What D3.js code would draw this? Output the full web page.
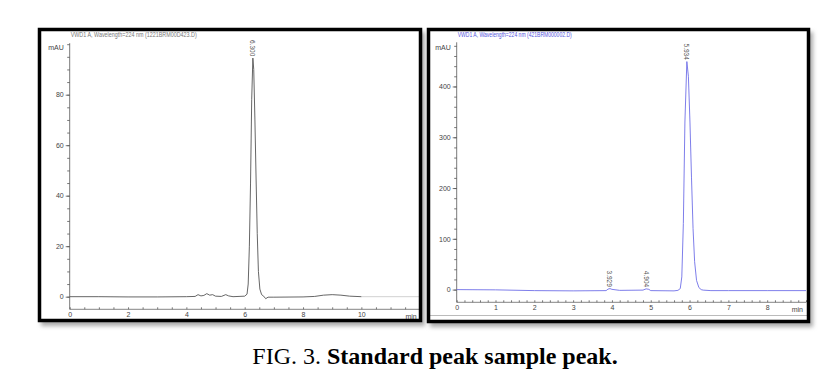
<!DOCTYPE html>
<html>
<head>
<meta charset="utf-8">
<script src="https://cdn.jsdelivr.net/npm/d3@7"></script>
<style>
  body { margin: 0; background: #fff; }
  svg { display: block; }
</style>
</head>
<body>
<div id="chart"></div>
<script>
// Chromatogram data: [time (min), signal (mAU)]
const standardTrace = [
  [0, 0], [1, 0], [2, -0.1], [3, -0.1], [4, 0], [4.3, 0.1], [4.4, 0.8], [4.5, 0.3],
  [4.6, 0.5], [4.7, 1.2], [4.8, 0.6], [4.9, 0.8], [5.0, 0.2], [5.2, 0.1], [5.35, 0.8],
  [5.45, 0.3], [5.6, 0], [6.0, 0.2], [6.08, 1], [6.12, 5], [6.16, 20], [6.2, 45],
  [6.24, 78], [6.28, 94.5], [6.31, 90], [6.35, 70], [6.39, 47], [6.43, 25], [6.47, 10],
  [6.52, 3], [6.58, 0.8], [6.65, 0.2], [6.72, -0.8], [6.8, -0.2], [7, -0.2], [8, -0.1],
  [8.4, 0.1], [8.7, 0.6], [9, 0.8], [9.3, 0.6], [9.6, 0.2], [10, 0]
];
const standardTail = [[10, 0], [12, 0]];
const sampleTrace = [
  [0, 0], [1, -0.5], [2, -2], [3, -2.5], [3.85, -2], [3.9, 1], [3.95, 2], [4.0, 0.5],
  [4.2, -1.5], [4.8, -1], [4.88, 1.5], [4.95, 0.5], [5.0, -2], [5.6, -2.5], [5.7, -1.5],
  [5.76, 2], [5.8, 25], [5.84, 130], [5.88, 330], [5.93, 449], [5.97, 420], [6.01, 330],
  [6.05, 220], [6.09, 120], [6.13, 55], [6.18, 18], [6.24, 4], [6.3, 0], [6.35, -1],
  [6.55, -2], [7, -2], [8, -2], [9, -2]
];

// Peak annotations: [time, height, label]
const standardPeaks = [[6.28, 94.5, '6.300']];
const samplePeaks = [[3.93, 2, '3.929'], [4.88, 1.5, '4.904'], [5.93, 449, '5.934']];

// Tick values
const standardXTicks = [0, 2, 4, 6, 8, 10];
const standardYTicks = [0, 20, 40, 60, 80];
const sampleXTicks = [0, 1, 2, 3, 4, 5, 6, 7, 8];
const sampleYTicks = [0, 100, 200, 300, 400];

const titles = [
  'VWD1 A, Wavelength=224 nm (1221BRM00D423.D)',
  'VWD1 A, Wavelength=224 nm (421BRM000002.D)'
];

const W = 821, H = 380;
const svg = d3.select('#chart').append('svg').attr('width', W).attr('height', H);

const defs = svg.append('defs');
defs.append('filter').attr('id', 'shadow')
  .append('feGaussianBlur').attr('stdDeviation', 2);

function drawPanel(cfg) {
  const g = svg.append('g');

  // drop shadow
  g.append('rect')
    .attr('x', cfg.box[0] + 3).attr('y', cfg.box[1] + 4)
    .attr('width', cfg.box[2]).attr('height', cfg.box[3])
    .attr('fill', '#aaa').attr('filter', 'url(#shadow)');
  g.append('rect')
    .attr('x', cfg.box[0]).attr('y', cfg.box[1])
    .attr('width', cfg.box[2]).attr('height', cfg.box[3])
    .attr('fill', '#fff');

  const x = d3.scaleLinear().domain(cfg.xDomain).range(cfg.xRange);
  const y = d3.scaleLinear().domain(cfg.yDomain).range(cfg.yRange);

  // title
  g.append('text')
    .attr('x', cfg.xRange[0] + 1).attr('y', cfg.box[1] + 9)
    .attr('font-family', 'Liberation Sans, Arial, sans-serif')
    .attr('font-size', 8)
    .attr('fill', cfg.titleColor)
    .attr('textLength', cfg.titleWidth)
    .attr('lengthAdjust', 'spacingAndGlyphs')
    .text(cfg.title);

  // mAU label
  g.append('text')
    .attr('x', cfg.xRange[0] - 6).attr('y', 50)
    .attr('text-anchor', 'end')
    .attr('font-family', 'Liberation Sans, Arial, sans-serif')
    .attr('font-size', 7).attr('fill', '#444')
    .text('mAU');

  // y axis: minor and major ticks
  const yMinor = g.append('g').attr('transform', `translate(${cfg.xRange[0]},0)`)
    .call(d3.axisLeft(y).tickValues(d3.range(0, cfg.yTop + 0.001, cfg.yMinor)).tickSize(2.5).tickFormat(''));
  yMinor.select('.domain').remove();
  const yMajor = g.append('g').attr('transform', `translate(${cfg.xRange[0]},0)`)
    .call(d3.axisLeft(y).tickValues(cfg.yTicks).tickSize(4).tickPadding(2));
  yMajor.select('.domain').remove();
  g.append('line')
    .attr('x1', cfg.xRange[0]).attr('x2', cfg.xRange[0])
    .attr('y1', cfg.yRange[1] - 1).attr('y2', cfg.yRange[0])
    .attr('stroke', '#555').attr('stroke-width', 0.8);

  // x axis (ticks point up)
  const xMinor = g.append('g').attr('transform', `translate(0,${cfg.yRange[0]})`)
    .call(d3.axisTop(x).tickValues(d3.range(0, cfg.xDomain[1] + 0.001, cfg.xMinor)).tickSize(2).tickFormat(''));
  xMinor.select('.domain').remove();
  const xMajor = g.append('g').attr('transform', `translate(0,${cfg.yRange[0]})`)
    .call(d3.axisBottom(x).tickValues(cfg.xTicks).tickSize(0).tickPadding(3));
  xMajor.select('.domain').remove();
  g.append('line')
    .attr('x1', cfg.xRange[0]).attr('x2', cfg.xRange[1])
    .attr('y1', cfg.yRange[0]).attr('y2', cfg.yRange[0])
    .attr('stroke', '#666').attr('stroke-width', 0.8);

  g.append('text')
    .attr('x', cfg.xRange[1] - 3).attr('y', cfg.yRange[0] + 10)
    .attr('text-anchor', 'end')
    .attr('font-family', 'Liberation Sans, Arial, sans-serif')
    .attr('font-size', 7).attr('fill', '#444')
    .text('min');

  g.selectAll('.tick line').attr('stroke', '#555').attr('stroke-width', 0.8);
  g.selectAll('.tick text')
    .attr('font-family', 'Liberation Sans, Arial, sans-serif')
    .attr('font-size', 7).attr('fill', '#444');

  const line = d3.line().x(d => x(d[0])).y(d => y(d[1]));

  if (cfg.tail) {
    g.append('path').datum(cfg.tail).attr('d', line)
      .attr('fill', 'none').attr('stroke', '#ccc').attr('stroke-width', 0.9);
  }
  g.append('path').datum(cfg.data).attr('d', line)
    .attr('fill', 'none').attr('stroke', cfg.lineColor).attr('stroke-width', 0.9);

  // peak labels, rotated
  g.selectAll('.peak').data(cfg.peaks).join('text')
    .attr('transform', d => `translate(${x(d[0]) - 2.5},${y(d[1]) - 18}) rotate(90)`)
    .attr('font-family', 'Liberation Sans, Arial, sans-serif')
    .attr('font-size', 6.5).attr('fill', '#555')
    .text(d => d[2]);

  if (cfg.extraLine) {
    g.append('line')
      .attr('x1', cfg.box[0]).attr('x2', cfg.box[0] + cfg.box[2])
      .attr('y1', cfg.extraLine).attr('y2', cfg.extraLine)
      .attr('stroke', '#aaa').attr('stroke-width', 0.8);
  }

  // frame
  g.append('rect')
    .attr('x', cfg.box[0] + 1.5).attr('y', cfg.box[1] + 1.5)
    .attr('width', cfg.box[2] - 3).attr('height', cfg.box[3] - 3)
    .attr('fill', 'none').attr('stroke', '#000').attr('stroke-width', 3.5);
}

drawPanel({
  box: [38, 28, 384, 294],
  xDomain: [0, 12], xRange: [69.7, 419.7],
  yDomain: [-5, 100], yRange: [309.3, 44.2], yTop: 100,
  xTicks: standardXTicks, yTicks: standardYTicks,
  xMinor: 0.5, yMinor: 5,
  data: standardTrace, tail: standardTail, peaks: standardPeaks,
  lineColor: '#555', title: titles[0], titleColor: '#777', titleWidth: 126
});

drawPanel({
  box: [427, 28, 383, 295],
  xDomain: [0, 9], xRange: [456.7, 806],
  yDomain: [-25, 485], yRange: [302.3, 43.3], yTop: 480,
  xTicks: sampleXTicks, yTicks: sampleYTicks,
  xMinor: 0.2, yMinor: 20,
  data: sampleTrace, tail: null, peaks: samplePeaks,
  lineColor: '#6f6fe8', title: titles[1], titleColor: '#5555dd', titleWidth: 114,
  extraLine: 315.5
});

// caption
const cap = svg.append('text')
  .attr('x', 435).attr('y', 364)
  .attr('text-anchor', 'middle')
  .attr('font-family', 'Liberation Serif, Times New Roman, serif')
  .attr('font-size', 24).attr('fill', '#000');
cap.append('tspan').text('FIG. 3. ');
cap.append('tspan').attr('font-weight', 'bold').text('Standard peak sample peak.');
</script>
</body>
</html>
